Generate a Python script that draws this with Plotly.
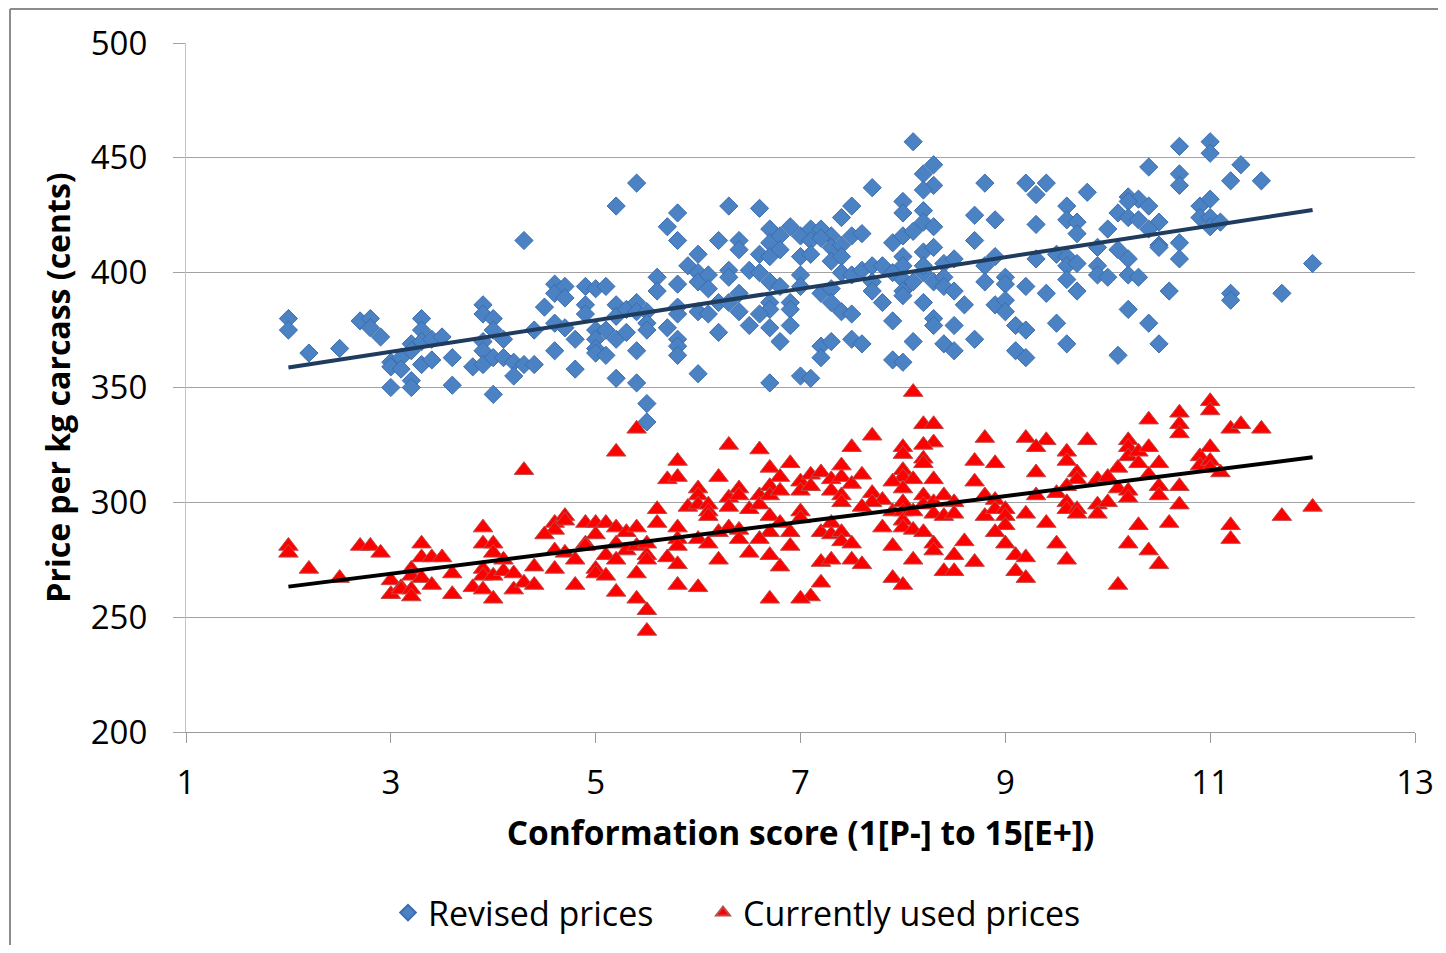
import plotly.graph_objects as go

# ---------------- data ----------------
revised_x = [
    2.0, 2.0, 2.2, 2.5, 2.7, 2.8, 2.8, 2.9, 3.0, 3.0, 3.0, 3.1, 3.1, 3.2, 3.2, 3.2, 3.2,
    3.3, 3.3, 3.3, 3.3, 3.4, 3.4, 3.5, 3.6, 3.6, 3.8, 3.9, 3.9, 3.9, 3.9, 3.9, 4.0, 4.0,
    4.0, 4.0, 4.1, 4.1, 4.2, 4.2, 4.3, 4.3, 4.4, 4.4,
    5.4, 5.2, 5.8, 5.7, 5.8, 6.3, 6.6, 6.2, 6.4, 6.4, 6.7, 6.7, 6.6, 6.7, 6.8, 6.0, 5.9,
    6.0, 6.0, 6.1, 6.1, 6.3, 6.3, 6.5, 6.6, 6.7, 6.8, 6.4, 6.2, 6.3, 6.7, 6.7, 6.6, 6.4,
    6.0, 6.1, 6.5, 6.7, 6.8, 6.2, 6.0, 6.7, 5.6, 5.6, 5.8, 5.8, 5.8, 5.7, 5.8, 5.8, 5.8,
    4.6, 4.6, 4.7, 4.7, 4.5, 4.9, 5.0, 5.1, 4.9, 4.9, 5.2, 5.2, 5.3, 5.4, 5.4, 5.5, 5.5,
    5.5, 4.6, 4.7, 4.8, 5.0, 5.1, 5.0, 5.0, 5.0, 5.1, 5.2, 5.3, 5.4, 4.6, 4.8, 5.2, 5.4,
    5.5, 5.5,
    8.1, 8.3, 8.2, 8.3, 8.2, 7.7, 8.8, 9.2, 7.5, 7.4, 8.0, 8.0, 8.2, 8.2, 8.3, 8.7, 8.9,
    8.7, 6.8, 6.9, 7.0, 7.1, 7.1, 7.2, 7.3, 7.3, 7.4, 7.5, 7.6, 7.0, 7.1, 7.2, 7.3, 7.4,
    7.4, 7.5, 7.6, 7.7, 7.8, 7.9, 8.0, 8.1, 8.0, 8.0, 8.2, 8.3, 7.9, 8.0, 8.0, 8.0, 8.1,
    8.2, 8.2, 8.3, 8.4, 8.4, 8.4, 8.5, 8.5, 8.8, 8.9, 8.8, 9.0, 9.0, 9.2, 7.0, 7.0, 7.2,
    7.3, 7.3, 7.4, 7.5, 6.9, 6.9, 6.9, 7.2, 7.2, 7.3, 7.5, 7.6, 7.7, 7.7, 7.8, 7.9, 7.9,
    8.0, 8.1, 8.2, 8.3, 8.3, 8.4, 8.5, 8.5, 8.6, 8.7, 8.9, 9.0, 9.0, 9.1, 9.2, 9.1, 9.2,
    7.0, 7.1,
    10.7, 11.0, 11.0, 11.3, 10.4, 10.7, 10.7, 11.2, 11.5, 9.4, 9.3, 9.8, 9.6, 9.6, 9.7,
    9.7, 9.3, 10.2, 10.3, 10.4, 10.2, 10.1, 10.2, 10.3, 10.5, 10.4, 10.0, 10.9, 11.0,
    10.9, 11.0, 11.0, 11.1, 12.0, 9.9, 10.1, 9.5, 9.6, 9.6, 9.3, 9.7, 9.9, 9.9, 10.0,
    10.2, 10.2, 10.3, 10.5, 10.5, 10.7, 10.7, 9.4, 9.6, 9.7, 10.6, 11.2, 11.2, 11.7,
    9.5, 9.6, 10.2, 10.4, 10.5, 10.1,
]
revised_y = [
    380, 375, 365, 367, 379, 380, 376, 372, 361, 359, 350, 363, 358, 353, 350, 369, 366,
    380, 375, 370, 360, 371, 362, 372, 363, 351, 359, 386, 382, 370, 366, 360, 380, 375,
    363, 347, 371, 363, 361, 355, 414, 360, 375, 360,
    439, 429, 426, 420, 414, 429, 428, 414, 414, 410, 419, 413, 408, 407, 416, 408, 403,
    400, 396, 399, 393, 401, 398, 401, 400, 396, 394, 391, 387, 387, 387, 384, 382, 383,
    383, 382, 377, 376, 370, 374, 356, 352, 398, 392, 395, 385, 382, 376, 371, 368, 364,
    395, 391, 394, 389, 385, 394, 393, 394, 386, 382, 386, 381, 384, 387, 383, 383, 378,
    375, 378, 376, 371, 375, 375, 371, 367, 365, 364, 371, 374, 366, 366, 358, 354, 352,
    343, 335,
    457, 447, 443, 438, 436, 437, 439, 439, 429, 424, 431, 426, 427, 422, 420, 425, 423,
    414, 410, 420, 416, 419, 414, 419, 416, 411, 412, 416, 417, 407, 408, 415, 405, 407,
    400, 399, 401, 403, 403, 413, 416, 418, 407, 403, 409, 411, 400, 397, 392, 390, 396,
    400, 403, 396, 404, 398, 394, 406, 392, 403, 407, 396, 398, 395, 394, 399, 394, 391,
    393, 387, 383, 382, 387, 384, 377, 368, 363, 370, 371, 369, 396, 392, 387, 379, 362,
    361, 370, 387, 380, 377, 369, 377, 366, 386, 371, 386, 388, 383, 377, 375, 366, 363,
    355, 354,
    455, 457, 452, 447, 446, 443, 438, 440, 440, 439, 434, 435, 429, 423, 422,
    417, 421, 433, 432, 429, 431, 426, 424, 423, 422, 419, 419, 429, 432,
    424, 424, 420, 422, 404, 411, 410, 408, 407, 403, 406, 404, 403, 399, 398,
    406, 399, 398, 412, 411, 413, 406, 391, 397, 392, 392, 391, 388, 391,
    378, 369, 384, 378, 369, 364,
]

current_x = [
    4.3, 2.0, 2.0, 2.2, 2.5, 2.7, 2.8, 2.9, 3.0, 3.0, 3.1, 3.1, 3.2, 3.2, 3.2, 3.2, 3.3,
    3.3, 3.3, 3.4, 3.4, 3.5, 3.6, 3.6, 3.8, 3.9, 3.9, 3.9, 3.9, 3.9, 4.0, 4.0, 4.0, 4.0,
    4.1, 4.1, 4.2, 4.2, 4.3, 4.4, 4.4,
    5.4, 5.2, 6.3, 6.6, 5.8, 5.7, 5.8, 6.2, 6.7, 6.8, 6.0, 6.0, 5.9, 6.0, 6.1, 6.1, 6.1,
    6.3, 6.3, 6.4, 6.4, 6.5, 6.6, 6.6, 6.7, 6.7, 6.7, 6.7, 6.8, 5.6, 5.6, 5.8, 5.8, 5.8,
    5.7, 5.8, 5.8, 6.0, 6.1, 6.2, 6.3, 6.4, 6.4, 6.6, 6.5, 6.2, 6.7, 6.8, 6.7, 6.0, 4.6,
    4.7, 4.7, 4.6, 4.5, 4.9, 5.0, 5.1, 5.2, 5.3, 5.4, 4.9, 4.9, 5.0, 5.2, 5.3, 5.4, 5.5,
    5.5, 5.5, 4.6, 4.7, 4.8, 5.1, 5.2, 4.6, 5.0, 5.0, 5.1, 5.4, 4.8, 5.2, 5.4, 5.5, 5.5,
    8.1, 8.2, 8.3, 8.3, 8.2, 8.2, 8.2, 7.7, 8.0, 8.0, 7.5, 7.4, 8.8, 9.2, 8.7, 8.9, 8.3,
    8.0, 8.0, 8.1, 7.9, 8.0, 8.7, 6.9, 7.0, 7.0, 7.1, 7.1, 7.2, 7.3, 7.3, 7.4, 7.4, 7.4,
    7.5, 7.6, 7.7, 7.8, 7.7, 7.6, 7.9, 8.0, 8.0, 8.0, 8.0, 8.1, 8.2, 8.2, 8.3, 8.3, 8.4,
    8.4, 8.5, 8.5, 8.8, 8.8, 8.9, 8.9, 9.0, 9.0, 9.0, 9.2, 6.8, 7.0, 7.0, 6.9, 6.9, 7.2,
    7.3, 7.3, 7.4, 7.4, 7.5, 7.8, 7.9, 8.1, 8.2, 8.3, 8.3, 8.5, 8.6, 8.9, 9.0, 9.1, 9.2,
    7.2, 7.3, 7.5, 7.6, 8.1, 8.4, 8.5, 8.7, 9.1, 9.2, 7.2, 7.1, 7.0, 7.9, 8.0,
    11.0, 11.0, 10.7, 10.7, 10.7, 10.4, 11.2, 11.3, 11.5, 9.4, 9.3, 9.8, 9.6, 9.6, 10.2,
    10.2, 10.2, 10.3, 10.3, 10.4, 10.5, 10.1, 10.9, 10.9, 11.0, 11.0, 11.0, 11.1, 9.3,
    9.7, 9.7, 9.9, 10.0, 10.4, 9.6, 9.5, 9.3, 10.1, 10.2, 10.2, 10.5, 10.5, 10.7, 10.7,
    9.6, 9.6, 9.7, 9.7, 9.9, 9.9, 10.0, 9.4, 10.3, 10.6, 11.2, 11.2, 11.7, 12.0, 9.5,
    9.6, 10.2, 10.4, 10.5, 10.1,
]
current_y = [
    314, 281, 278, 271, 267, 281, 281, 278, 266, 260, 263, 262, 271, 268, 262, 259, 282,
    276, 267, 276, 264, 276, 269, 260, 263, 289, 282, 271, 268, 262, 282, 278, 268, 258,
    275, 270, 269, 262, 265, 272, 264,
    332, 322, 325, 323, 318, 310, 311, 311, 315, 311, 306, 303, 298, 299, 299, 296, 294,
    302, 298, 306, 303, 297, 303, 299, 307, 303, 294, 287, 305, 297, 291, 289, 284, 281,
    276, 273, 264, 284, 282, 287, 289, 288, 284, 284, 278, 275, 277, 272, 258, 263, 291,
    294, 292, 288, 286, 291, 291, 291, 289, 287, 289, 282, 281, 286, 282, 279, 281, 282,
    277, 275, 279, 278, 275, 277, 275, 271, 271, 269, 268, 269, 264, 261, 258, 253, 244,
    348, 334, 334, 326, 325, 319, 317, 329, 324, 321, 324, 316, 328, 328, 318, 317, 310,
    314, 311, 310, 309, 306, 309, 317, 309, 305, 312, 307, 313, 310, 305, 311, 303, 300,
    308, 312, 304, 301, 300, 298, 296, 300, 296, 292, 289, 296, 303, 299, 300, 295, 303,
    294, 300, 295, 303, 294, 301, 297, 297, 294, 290, 295, 291, 296, 293, 287, 281, 287,
    291, 286, 287, 283, 282, 289, 281, 288, 287, 282, 279, 277, 283, 287, 282, 277, 276,
    274, 275, 275, 273, 275, 270, 270, 274, 270, 267, 265, 259, 258, 267, 264,
    344, 340, 339, 334, 330, 336, 332, 334, 332, 327, 324, 327, 322, 318, 327,
    324, 320, 322, 317, 324, 317, 315, 320, 316, 324, 318, 315, 313, 313,
    313, 310, 310, 311, 312, 307, 304, 303, 306, 305, 302, 307, 303, 307, 299,
    300, 297, 297, 295, 299, 295, 300, 291, 290, 291, 290, 284, 294, 298, 282,
    275, 282, 279, 273, 264,
]

# linear trend lines, end points
trend_x = [2.0, 12.0]
revised_trend = [358.7, 427.3]
current_trend = [263.3, 319.6]

x_ticks = [1, 3, 5, 7, 9, 11, 13]
y_ticks = [200, 250, 300, 350, 400, 450, 500]

# ---------------- figure ----------------
# the page body adds an 8px offset, so the figure is laid out in page px minus 8
OFF = 8
W, H = 1446 - 2 * OFF, 953 - 2 * OFF
ML = 186 - OFF
MT = 43 - OFF
MR = W - (1415 - OFF)
MB = H - (732 - OFF)
PW, PH = W - ML - MR, H - MT - MB

FONT = "Open Sans, Noto Sans, DejaVu Sans, sans-serif"


def px_x(p):
    return (p - OFF - ML) / PW


def px_y(p):
    return (H - MB - (p - OFF)) / PH


fig = go.Figure()
fig.add_trace(go.Scatter(
    x=revised_x, y=revised_y, mode="markers", name="Revised prices", legend="legend",
    marker=dict(symbol="diamond", size=14, color="#4A82C4",
                line=dict(color="#3C6DAE", width=1)),
))
fig.add_trace(go.Scatter(
    x=current_x, y=current_y, mode="markers", name="Currently used prices", legend="legend2",
    marker=dict(symbol="triangle-up", size=17, color="#FF0000",
                line=dict(color="#BE4B48", width=1)),
))
fig.add_trace(go.Scatter(
    x=trend_x, y=revised_trend, mode="lines", showlegend=False, hoverinfo="skip",
    line=dict(color="#1F3B5E", width=4),
))
fig.add_trace(go.Scatter(
    x=trend_x, y=current_trend, mode="lines", showlegend=False, hoverinfo="skip",
    line=dict(color="#000000", width=4),
))

# outer chart border (left and top edges visible in the reference)
fig.add_shape(type="line", xref="paper", yref="paper",
              x0=px_x(10), x1=px_x(1460), y0=px_y(9), y1=px_y(9),
              line=dict(color="#8C8C8C", width=2))
fig.add_shape(type="line", xref="paper", yref="paper",
              x0=px_x(10), x1=px_x(10), y0=px_y(9), y1=px_y(970),
              line=dict(color="#8C8C8C", width=2))

legend_common = dict(orientation="h", xanchor="left", y=px_y(913), yanchor="middle",
                     font=dict(family=FONT, size=34, color="#000000"),
                     itemsizing="constant", bgcolor="rgba(0,0,0,0)")

fig.update_layout(
    width=W, height=H,
    margin=dict(l=ML, r=MR, t=MT, b=MB, autoexpand=False),
    paper_bgcolor="white", plot_bgcolor="white",
    font=dict(family=FONT, color="#000000"),
    showlegend=True,
    legend=dict(x=px_x(388), **legend_common),
    legend2=dict(x=px_x(703), **legend_common),
    xaxis=dict(
        range=[1, 13], tickvals=x_ticks, ticktext=[str(v) for v in x_ticks],
        showgrid=False, zeroline=False,
        showline=True, linecolor="#9A9A9A", linewidth=1.3,
        ticks="outside", ticklen=10, tickcolor="#9A9A9A", tickwidth=1.3,
        tickfont=dict(family=FONT, size=33, color="#000000"),
        ticklabelstandoff=11,
        title=dict(text="<b>Conformation score (1[P-] to 15[E+])</b>",
                   font=dict(family=FONT, size=33.5, color="#000000"), standoff=18),
        automargin=False,
    ),
    yaxis=dict(
        range=[200, 500], tickvals=y_ticks, ticktext=[str(v) for v in y_ticks],
        showgrid=True, gridcolor="#A3A3A3", gridwidth=1.3, zeroline=False,
        showline=True, linecolor="#C4C4C4", linewidth=1.3,
        ticks="outside", ticklen=12, tickcolor="#A3A3A3", tickwidth=1.3,
        tickfont=dict(family=FONT, size=33, color="#000000"),
        ticklabelstandoff=19,
        title=dict(text="<b>Price per kg carcass (cents)</b>",
                   font=dict(family=FONT, size=32, color="#000000"), standoff=10),
        automargin=False,
    ),
)

fig.write_html("out.html")
